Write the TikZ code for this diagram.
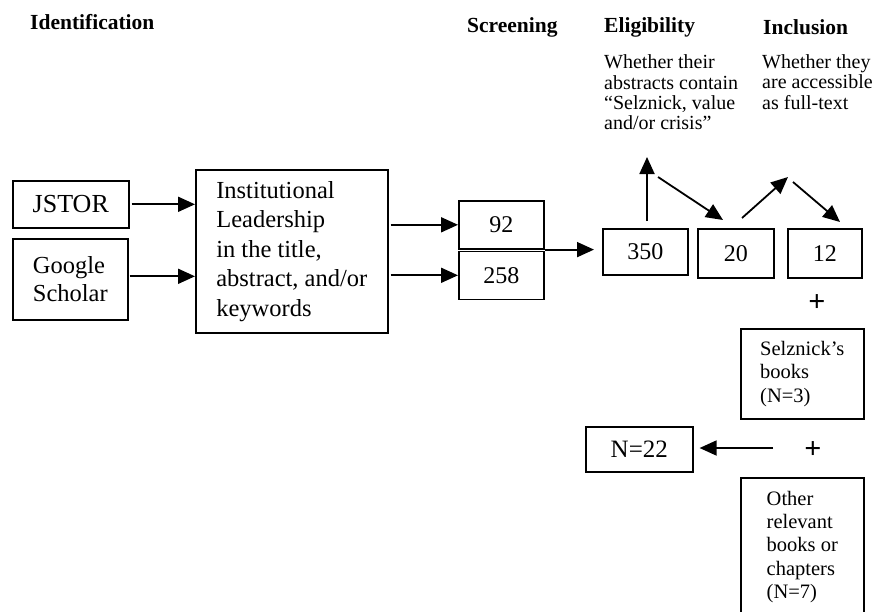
\documentclass[tikz,border=0pt]{standalone}
\usepackage{fontspec}
\setmainfont{Liberation Serif}
\usetikzlibrary{arrows.meta}
\tikzset{
  box/.style={draw=black, line width=1.6pt, inner sep=0pt, anchor=north west, align=left,
    font=\fontsize{24}{28.5}\selectfont},
  smallbox/.style={box, font=\fontsize{20.5}{23.3}\selectfont},
  head/.style={anchor=west, inner sep=0pt, font=\fontsize{21.5}{24}\selectfont\bfseries},
  note/.style={anchor=west, inner sep=0pt, align=left, font=\fontsize{20}{20.4}\selectfont},
  plus/.style={inner sep=0pt, font=\fontsize{30}{30}\selectfont\bfseries},
  arr/.style={line width=1.8pt, -{Triangle[length=17pt,width=15pt]}}
}
\begin{document}
\begin{tikzpicture}[x=1pt,y=-1pt]
\useasboundingbox (0,0) rectangle (874,611);
\clip (0,0) rectangle (874,611);
\fill[white] (0,0) rectangle (874,611);

% headers
\node[head] (hid) at (30,22) {Identification};
\node[head] (hscr) at (467,27) {Screening};
\node[head] (helig) at (604,27) {Eligibility};
\node[head] (hincl) at (763,27) {Inclusion};

% notes
\node[note] (nelig) at (604,92.5) {Whether their\\abstracts contain\\“Selznick, value\\and/or crisis”};
\node[note] (nincl) at (762,82) {Whether they\\are accessible\\as full-text};

% boxes
\node[box, font=\fontsize{26}{28}\selectfont, minimum width=116pt, minimum height=47pt] (jstor) at (12,180) {JSTOR};
\node[box, font=\fontsize{24.5}{28}\selectfont, minimum width=115pt, minimum height=81pt] (google) at (12,238) {Google\\Scholar};
\node[box, font=\fontsize{24.5}{29.5}\selectfont, minimum width=192pt, minimum height=163pt] (inst) at (195,169)
  {Institutional\\Leadership\\in the title,\\abstract, and/or\\keywords};
\node[box, minimum width=85pt, minimum height=48pt] (n92) at (458,200) {92};
\node[box, minimum width=85pt, minimum height=48pt] (n258) at (458,250.5) {258};
\node[box, minimum width=85pt, minimum height=46pt] (n350) at (602,228) {350};
\node[box, minimum width=76pt, minimum height=49pt] (n20) at (697,228) {20};
\node[box, minimum width=74pt, minimum height=49pt] (n12) at (787,228) {12};
\node[plus] (p1) at (817,303) {+};
\node[smallbox, minimum width=123pt, minimum height=90pt] (selz) at (740,328) {Selznick’s\\books\\(N=3)};
\node[plus] (p2) at (813,450) {+};
\node[box, font=\fontsize{25}{28}\selectfont, minimum width=107pt, minimum height=45pt] (n22) at (585,426) {N=22};
\node[smallbox, minimum width=123pt, minimum height=138pt] (other) at (740,477)
  {Other\\relevant\\books or\\chapters\\(N=7)};

% free-end coordinates
\coordinate (up1) at (647,157);
\coordinate (a1s) at (658,177);
\coordinate (a1e) at (723,220);
\coordinate (a2s) at (742,218);
\coordinate (a2e) at (788,177);
\coordinate (a3s) at (793,182);
\coordinate (a3e) at (840,222);
\coordinate (b1s) at (773,448);

% connectors
\draw[arr, shorten <=2pt] (jstor.east) -- (jstor.east -| inst.west);
\draw[arr, shorten <=1pt] ([yshift=3pt]google.east) -- ([yshift=3pt]google.east -| inst.west);
\draw[arr, shorten <=2pt] (n92.west -| inst.east) -- (n92.west);
\draw[arr, shorten <=2pt] (n258.west -| inst.east) -- (n258.west);
\draw[arr, shorten >=8pt] (n92.south east) -- (n92.south east -| n350.west);
\draw[arr, shorten <=7pt] (n350.north -| up1) -- (up1);
\draw[arr] (a1s) -- (a1e);
\draw[arr] (a2s) -- (a2e);
\draw[arr] (a3s) -- (a3e);
\draw[arr, shorten >=6pt] (b1s) -- (b1s -| n22.east);
\end{tikzpicture}
\end{document}
